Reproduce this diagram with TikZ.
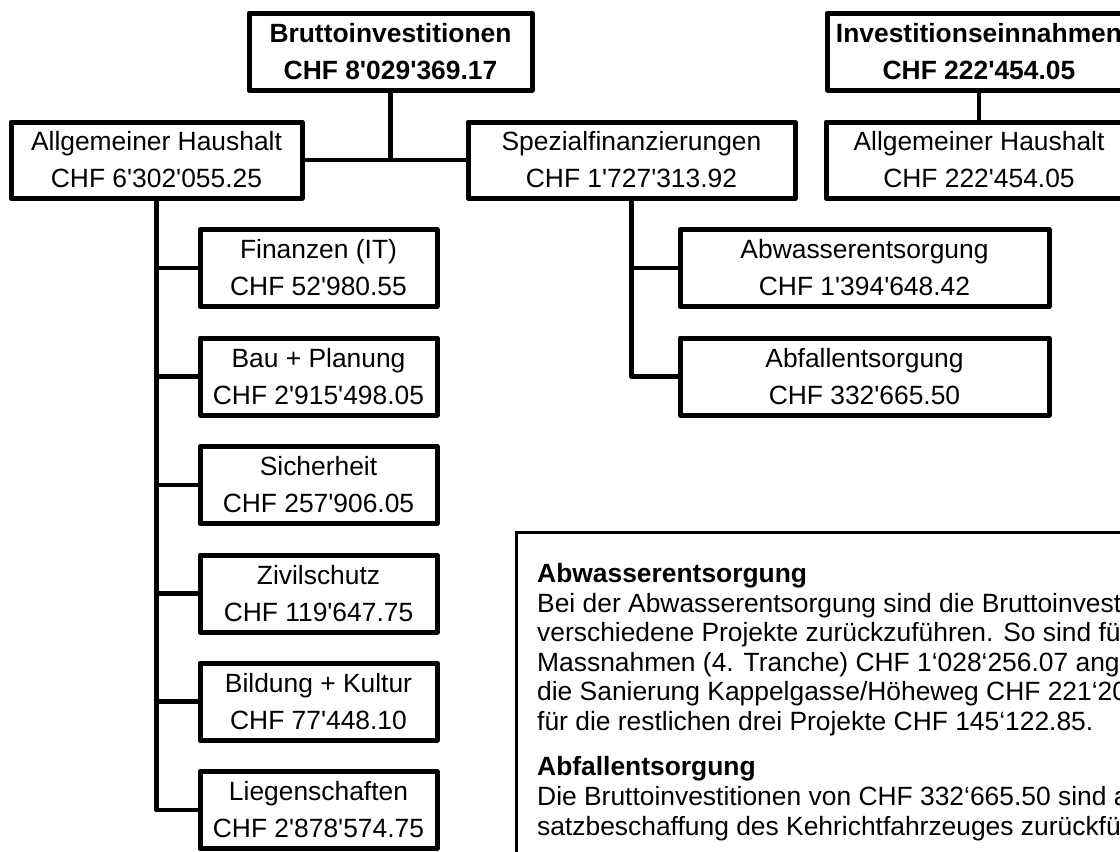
\documentclass[tikz,border=0pt]{standalone}
% Arial-metric faces, loaded without TeX ligature mapping so ' stays straight
\font\ar="Liberation Sans" at 26.4pt
\font\arb="Liberation Sans/B" at 26.4pt
\begin{document}
\begin{tikzpicture}[x=1pt,y=-1pt,
  box/.style={draw, line width=5pt, line join=round, inner sep=0pt, align=center,
    font={\ar\baselineskip=37pt}, minimum height=77pt},
  headbox/.style={box, font={\arb\baselineskip=37pt}},
  link/.style={line width=4.6pt, line join=round},
  para/.style={anchor=base west, inner sep=0pt, font=\ar},
  parahead/.style={para, font=\arb}]
\useasboundingbox (0,0) rectangle (1120,852);
\fill[white] (0,0) rectangle (1120,852);
\clip (0,0) rectangle (1120,852);

% top level
\node[headbox, minimum width=283pt] (brutto) at (390.5,51.5) {Bruttoinvestitionen\\CHF 8'029'369.17};
\node[headbox, minimum width=303pt] (invest) at (979,51.5) {Investitionseinnahmen\\CHF 222'454.05};

% second level
\node[box, minimum width=291pt, minimum height=76pt] (allg) at (156.5,160) {Allgemeiner Haushalt\\CHF 6'302'055.25};
\node[box, minimum width=327pt, minimum height=76pt] (spez) at (631.5,160) {Spezialfinanzierungen\\CHF 1'727'313.92};
\node[box, minimum width=306pt, minimum height=76pt] (allg2) at (979,160) {Allgemeiner Haushalt\\CHF 222'454.05};

% Allgemeiner Haushalt: departments
\node[box, minimum width=237pt] (fin) at (318.5,268) {Finanzen (IT)\\CHF 52'980.55};
\node[box, minimum width=237pt] (bau) at (318.5,376.5) {Bau + Planung\\CHF 2'915'498.05};
\node[box, minimum width=237pt] (sich) at (318.5,485) {Sicherheit\\CHF 257'906.05};
\node[box, minimum width=237pt] (ziv) at (318.5,593.5) {Zivilschutz\\CHF 119'647.75};
\node[box, minimum width=237pt] (bild) at (318.5,701.5) {Bildung + Kultur\\CHF 77'448.10};
\node[box, minimum width=237pt] (lieg) at (318.5,810) {Liegenschaften\\CHF 2'878'574.75};

% Spezialfinanzierungen
\node[box, minimum width=369pt] (abw) at (864.5,268) {Abwasserentsorgung\\CHF 1'394'648.42};
\node[box, minimum width=369pt] (abf) at (864.5,376.5) {Abfallentsorgung\\CHF 332'665.50};

% connectors
\draw[link] (brutto.south) -- (brutto.south |- allg.east);
\draw[link] (allg.east) -- (spez.west);
\draw[link] (invest.south) -- (allg2.north);
\draw[link] (allg.south) |- (lieg.west);
\foreach \n in {fin,bau,sich,ziv,bild}
  \draw[link] (allg.south |- \n.west) -- (\n.west);
\draw[link] (spez.south) |- (abf.west);
\draw[link] (spez.south |- abw.west) -- (abw.west);

% explanatory note
\node[draw, line width=2.5pt, inner sep=0pt, anchor=north west,
  minimum width=640pt, minimum height=360pt] (note) at (515,531) {};
\node[parahead] (p1) at (537,582) {Abwasserentsorgung};
\node[para] (p2) at (537,612) {Bei der Abwasserentsorgung sind die Bruttoinvestitionen};
\node[para] (p3) at (537,641) {verschiedene Projekte zurückzuführen. So sind für};
\node[para] (p4) at (537,671) {Massnahmen (4. Tranche) CHF 1‘028‘256.07 ang};
\node[para] (p5) at (537,700) {die Sanierung Kappelgasse/Höheweg CHF 221‘20};
\node[para] (p6) at (537,730) {für die restlichen drei Projekte CHF 145‘122.85.};
\node[parahead] (p7) at (537,775) {Abfallentsorgung};
\node[para] (p8) at (537,805) {Die Bruttoinvestitionen von CHF 332‘665.50 sind a};
\node[para] (p9) at (537,835) {satzbeschaffung des Kehrichtfahrzeuges zurückfü};
\end{tikzpicture}
\end{document}
